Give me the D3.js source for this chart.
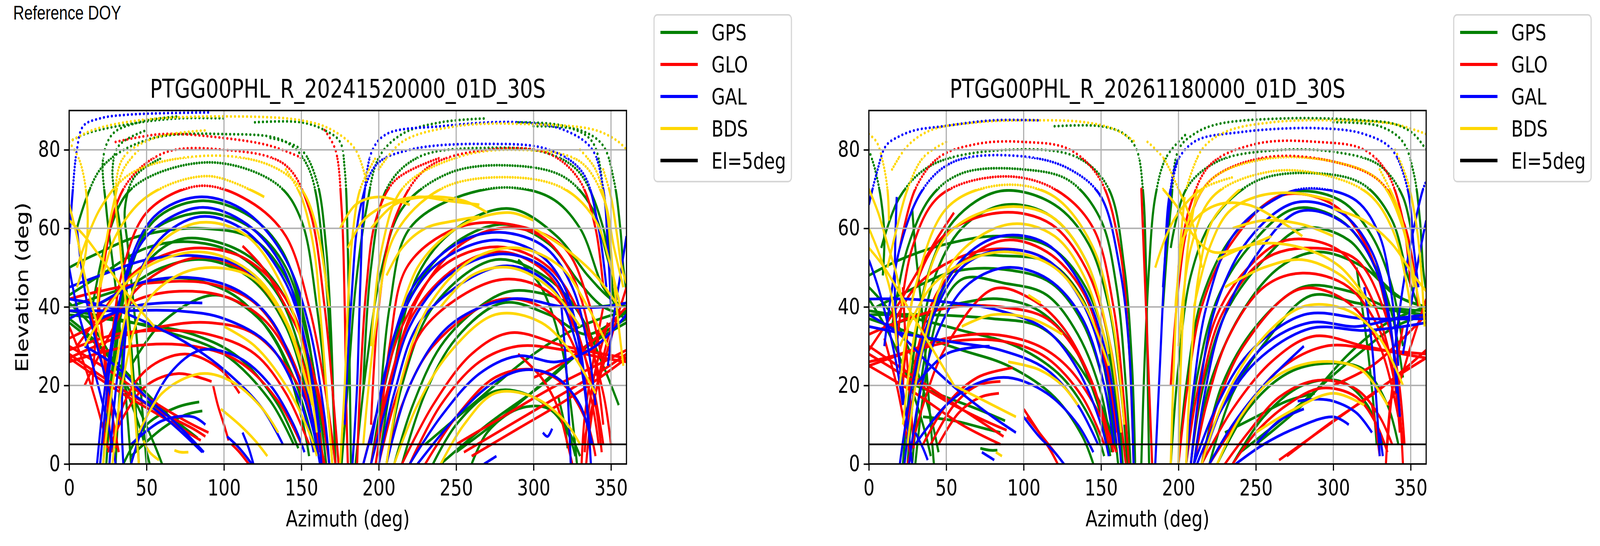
<!DOCTYPE html>
<html>
<head>
<meta charset="utf-8">
<script src="https://cdn.jsdelivr.net/npm/d3@7"></script>
<style>
  html, body { margin: 0; padding: 0; background: #fff; overflow: hidden; }
  svg { display: block; width: 100vw; height: 100vh; }
  text { font-family: "DejaVu Sans", sans-serif; }
</style>
</head>
<body>
<svg id="chart"></svg>
<script>
"use strict";

// tick labels
var azTicks = [0, 50, 100, 150, 200, 250, 300, 350];
var elTicks = [0, 20, 40, 60, 80];
var systems = ["GPS", "GLO", "GAL", "BDS"];
var sysColors = ["green", "red", "blue", "gold"];
var titles = ["PTGG00PHL_R_20241520000_01D_30S", "PTGG00PHL_R_20261180000_01D_30S"];
var elMask = 5;

// tracks, [azimuth, elevation]
var gps24 = [
  [[22,0],[28,25],[36,45],[50,58],[85,64],[118,60],[140,50],[155,30],[163,10],[166,0]],
  [[24,0],[30,28],[40,50],[55,62],[85,67],[117,63],[138,54],[153,35],[161,12],[164,0]],
  [[30,0],[33,20],[38,38],[48,50],[70,57],[100,56],[125,50],[145,38],[157,20],[163,3]],
  [[0,50],[15,53],[45,58],[85,60],[120,57],[142,46],[155,30],[162,12]],
  [[0,43],[20,48],[50,55],[80,56.5],[110,53],[135,43],[150,28],[160,10],[164,0]],
  [[5,38],[30,43],[60,50],[88,52],[118,47],[140,35],[155,15],[160,3]],
  [[0,40],[30,44],[60,47],[80,47],[110,42],[135,30],[150,12],[155,2]],
  [[40,25],[60,36],[95,43],[125,36],[145,22],[158,5]],
  [[0,38],[40,36],[80,33],[110,27],[135,15],[148,4]],
  [[0,39],[30,37],[60,34],[100,28],[130,16],[145,5]],
  [[40,0],[36,20],[30,45],[24,65],[22,78],[28,84],[45,87],[70,88.5]],
  [[45,0],[42,20],[38,40],[33,60],[28,75],[32,81],[50,85]],
  [[50,0],[47,15],[43,35],[38,55],[36,65],[42,73],[60,78]],
  [[0,82],[10,84],[38,86.5],[70,88],[100,88]],
  [[15,40],[25,58],[40,70],[90,76.8],[135,71],[150,62],[160,40],[168,10],[170,0]],
  [[5,60],[20,75],[50,82.5],[100,84],[140,82],[155,75],[165,50],[170,20],[172,0]],
  [[35,0],[50,10],[70,14.5],[84,15.8]],
  [[40,2],[60,9],[75,12.5],[86,13.5]],
  [[50,16],[65,12],[83,6.6]],
  [[0,37],[20,30],[40,18],[55,5],[60,0]],
  [[0,41],[15,35],[30,25],[45,10],[52,0]],
  [[0,36],[25,28],[45,20],[65,12],[75,8]],
  [[120,87],[150,87],[165,85],[175,82],[178,75],[180,55],[181,30],[182,0]],
  [[130,83],[150,80],[160,72],[166,55],[169,35],[171,12],[172,0]],
  [[200,0],[210,25],[225,48],[250,60],[285,65],[315,58],[335,48],[350,42],[360,40]],
  [[195,0],[205,22],[220,42],[245,55],[280,61],[310,56],[330,46],[345,40],[360,38]],
  [[185,0],[192,25],[202,50],[215,65],[245,74],[285,76],[320,73],[338,65],[348,52],[355,42]],
  [[205,0],[215,20],[235,40],[275,52],[310,47],[330,38],[345,25],[355,15]],
  [[215,0],[230,18],[250,32],[280,41],[310,38],[335,33],[360,39]],
  [[235,0],[250,10],[275,18.5],[300,17],[320,10],[330,2]],
  [[260,0],[270,8],[290,14],[310,14],[322,8],[327,2]],
  [[190,20],[195,50],[205,70],[225,78],[270,80.5],[310,79],[330,74],[345,60],[352,40]],
  [[200,10],[207,40],[220,60],[270,70],[310,68],[330,60],[345,45],[355,40]],
  [[176,0],[180,20],[185,45],[192,65],[200,78],[215,84],[240,87],[270,88]],
  [[290,87],[320,86],[338,82],[345,70],[349,55],[352,42],[356,38],[360,37]],
  [[300,86],[330,85],[345,81],[352,72],[356,60],[358,50],[360,44]],
  [[230,5],[260,15],[300,28],[330,35],[360,39]],
  [[250,3],[280,12],[310,22],[340,32],[360,37]],
  [[240,0],[270,10],[305,20],[335,30],[360,36]],
  [[328,0],[324,15],[318,30],[305,45],[290,52]],
  [[322,4],[320,10],[316,17]],
  [[210,0],[222,15],[240,30],[265,40],[285,44],[310,43],[330,40],[360,41]]
];
var glo24 = [
  [[22,5],[27,30],[35,50],[50,64],[84,70.8],[116,67],[140,58],[155,40],[165,20],[172,0]],
  [[5,30],[20,38],[40,48],[60,53],[85,55],[115,52],[140,42],[155,27],[165,8],[168,0]],
  [[10,20],[25,32],[45,45],[85,52.6],[120,47],[145,32],[160,12],[164,0]],
  [[0,42],[20,44],[50,46],[90,46],[120,41],[140,30],[155,15],[162,3]],
  [[0,32],[20,36],[45,42],[75,44],[105,42],[130,35],[150,20],[160,5]],
  [[0,27],[30,32],[60,35],[90,36],[120,33],[145,22],[160,8],[165,0]],
  [[0,29],[30,33],[60,34],[90,33],[120,28],[140,18],[155,5]],
  [[0,26],[40,30],[80,30],[110,26],[135,16],[150,5]],
  [[0,28],[30,20],[60,13],[80,9],[88,7]],
  [[0,30],[25,24],[50,17],[75,11],[90,8]],
  [[0,27],[30,19],[60,12],[85,6]],
  [[18,45],[22,30],[25,15],[27,5],[28,3]],
  [[0,35],[10,25],[20,12],[25,4]],
  [[12,42],[20,28],[28,12],[32,3]],
  [[20,38],[24,25],[28,12],[30,4]],
  [[25,3],[35,12],[50,20],[70,23],[92,21]],
  [[28,3],[35,15],[50,24],[75,28],[98,24],[110,18]],
  [[15,20],[22,50],[35,70],[60,79],[100,80],[140,76],[155,65],[165,40],[172,10],[174,0]],
  [[30,82],[60,84],[100,83],[130,81],[150,78]],
  [[112,55.5],[125,50],[140,40],[150,32],[160,20],[166,8]],
  [[93,20],[96,15],[100,10],[103,6]],
  [[105,5],[110,3],[116,0]],
  [[165,85],[172,80],[176,65],[178,40],[179,15],[180,0]],
  [[190,0],[200,15],[215,35],[240,50],[277,55.3],[310,50],[330,38],[345,18],[350,5]],
  [[195,0],[205,18],[222,38],[250,50],[280,54],[310,48],[328,34],[340,15],[344,3]],
  [[198,0],[208,22],[225,42],[250,55],[278,60],[305,58],[325,48],[338,30],[345,10]],
  [[200,0],[212,18],[230,35],[280,47],[315,42],[335,25],[345,5]],
  [[205,0],[215,15],[235,30],[280,42],[315,37],[335,20],[342,5]],
  [[215,0],[235,15],[260,28],[285,33.4],[320,30],[345,28],[360,27]],
  [[220,0],[240,15],[265,26],[290,30],[320,29],[345,27],[360,26]],
  [[230,0],[250,12],[275,22],[300,24],[320,20],[335,10],[340,2]],
  [[250,5],[280,12],[310,19],[340,25],[360,29]],
  [[255,3],[285,10],[315,17],[345,24],[360,28]],
  [[260,2],[290,9],[320,16],[350,24],[360,27]],
  [[195,10],[200,40],[210,62],[230,75],[270,80],[310,79],[330,72],[340,60],[345,45]],
  [[200,5],[207,30],[218,50],[250,60],[285,61],[320,55],[335,42],[345,25]],
  [[186,0],[188,20],[192,45],[198,62],[210,72],[240,78]],
  [[345,40],[338,25],[333,12],[331,0]],
  [[352,38],[342,22],[336,8],[334,0]],
  [[348,36],[340,24],[335,12],[333,3]],
  [[360,45],[350,32],[340,18],[332,5]],
  [[300,22],[320,26],[340,32],[360,40]],
  [[290,28],[305,22],[315,15],[322,5],[325,0]]
];
var gal24 = [
  [[0,56],[2,68],[5,80],[9,86],[20,88],[40,89],[90,89.5]],
  [[20,0],[28,30],[38,50],[55,63],[84,68],[115,64],[140,52],[155,35],[165,12],[168,0]],
  [[18,0],[25,25],[35,45],[50,58],[84,65.3],[115,61],[138,50],[152,32],[160,12],[163,0]],
  [[26,0],[32,25],[42,45],[58,57],[85,63],[115,59],[140,46],[153,30],[162,8]],
  [[0,45],[20,48],[50,52],[82,53],[112,50],[135,40],[150,25],[160,5]],
  [[0,37],[20,41],[45,46],[80,47.4],[110,44],[130,37],[145,25],[158,8],[162,0]],
  [[20,37],[40,40],[60,41],[86,41]],
  [[0,39],[30,39],[70,39],[100,37],[130,30],[150,15],[158,3]],
  [[0,42],[25,40],[50,36],[75,31],[100,24],[125,14],[138,5]],
  [[10,30],[30,25],[50,17],[70,10],[87,3]],
  [[40,18],[55,14],[70,9],[86,3]],
  [[0,50],[5,40],[12,30],[20,18],[28,5],[30,0]],
  [[5,60],[8,50],[12,40],[18,30],[25,20],[32,10]],
  [[38,40],[35,25],[34,10],[35,0]],
  [[40,0],[50,12],[65,23],[85,29],[110,27],[130,20],[145,10],[152,3]],
  [[40,5],[60,11],[80,12],[88,10]],
  [[112,8],[116,4],[119,0]],
  [[102,7],[110,4],[118,0]],
  [[190,0],[200,15],[212,35],[235,50],[274,57],[305,53],[320,45],[330,30],[335,12],[337,0]],
  [[195,0],[205,15],[220,35],[245,48],[280,53.5],[310,49],[325,38],[333,20],[337,5]],
  [[195,5],[205,25],[222,45],[250,56],[278,59],[308,55],[325,45],[335,30],[340,15]],
  [[200,0],[210,18],[228,37],[280,50.4],[312,45],[328,30],[335,12]],
  [[205,0],[220,20],[245,35],[285,42],[320,40],[345,40],[360,41]],
  [[220,0],[240,12],[265,23],[290,27.5],[315,26],[340,30],[360,38]],
  [[225,0],[250,12],[275,21],[295,24],[315,22],[330,15],[338,5]],
  [[183,0],[186,20],[188,45],[191,70],[196,80],[205,84],[240,86],[290,87],[320,85],[338,80],[345,70],[348,55],[350,40]],
  [[178,10],[182,40],[188,65],[198,76],[220,80],[270,81.5],[310,80],[332,74],[342,60],[347,45]],
  [[306,8],[309,7],[312,9]],
  [[268,0],[272,1],[276,2]],
  [[318,40],[321,25],[323,10],[324,0]],
  [[360,58],[356,48],[352,38],[348,25]]
];
var bds24 = [
  [[0,82],[15,85],[45,87.5],[100,88.5],[150,87.5],[170,85],[185,80],[192,72]],
  [[5,50],[20,65],[40,74],[90,78.5],[130,76],[150,70],[160,60],[168,40]],
  [[20,45],[30,58],[50,68],[90,73.3],[126,68]],
  [[22,0],[30,25],[42,45],[58,56],[85,61.5],[115,58],[138,45],[152,28],[160,8]],
  [[10,30],[25,40],[45,49],[85,54],[120,48],[142,35],[157,15]],
  [[28,0],[35,22],[48,40],[70,48],[95,50],[120,47],[140,36],[155,18]],
  [[45,8],[60,18],[85,23],[105,21],[125,14],[135,8]],
  [[0,82],[6,78],[10,72],[12,62],[10,52],[5,45]],
  [[0,66],[5,58],[10,48],[15,40],[22,30]],
  [[0,62],[10,58],[25,50],[40,42],[55,35]],
  [[18,40],[22,52],[28,65],[35,75],[45,80]],
  [[45,0],[42,15],[38,35],[33,55],[30,70],[35,78],[55,83],[90,85]],
  [[68,3.5],[72,3],[77,3]],
  [[48,6],[52,3],[58,1]],
  [[100,35],[120,30],[140,20],[155,8],[160,2]],
  [[98,14],[110,10],[120,6],[128,2]],
  [[140,75],[150,68],[158,55],[163,35],[167,15],[170,0]],
  [[190,5],[198,35],[210,58],[240,70],[285,73],[320,70],[340,62],[350,50],[356,40]],
  [[195,30],[202,55],[215,70],[250,78],[290,80],[330,77],[345,68],[352,55],[358,45]],
  [[200,75],[215,82],[250,86],[300,86.5],[340,85],[355,82],[360,80]],
  [[205,0],[215,22],[232,40],[260,52],[290,55],[318,50],[335,40],[348,30]],
  [[210,0],[225,15],[245,28],[275,38],[305,36],[325,28],[340,18]],
  [[240,0],[255,10],[275,18],[300,17],[320,11],[330,5]],
  [[330,80],[340,75],[347,65],[351,50],[355,35],[358,25]],
  [[345,75],[350,68],[354,58],[357,50],[360,46]],
  [[175,0],[178,20],[180,40],[183,58],[188,70],[198,78]],
  [[175,60],[185,66],[200,68],[220,66]],
  [[205,48],[215,55],[230,60],[250,62],[265,63]],
  [[180,55],[190,62],[205,66],[225,68],[245,67],[265,66]],
  [[195,60],[210,66],[230,68],[255,67],[270,64]],
  [[215,40],[225,50],[240,57],[260,62],[285,64],[300,62]],
  [[240,40],[260,48],[285,50],[310,45],[330,35]],
  [[300,60],[320,55],[340,48],[355,40]]
];

// tracks
var gps26 = [
  [[0,80],[4,75],[8,67],[10,58],[9,48]],
  [[22,0],[28,25],[38,48],[55,62],[85,69.5],[120,66],[142,56],[155,40],[163,18],[167,0]],
  [[25,0],[31,25],[42,47],[60,60],[88,66],[118,63],[140,52],[153,35],[161,14],[164,0]],
  [[0,48],[20,52],[50,56],[85,58],[118,55],[140,45],[155,28],[162,8]],
  [[28,0],[34,22],[45,42],[62,52],[88,53],[118,51],[138,42],[150,28],[158,10],[161,0]],
  [[5,40],[25,44],[55,49],[88,49.5],[118,46],[138,36],[152,20],[160,3]],
  [[30,0],[36,20],[45,38],[60,47],[88,46],[115,43],[135,33],[150,18],[157,3]],
  [[10,35],[35,38],[60,41],[85,42],[110,39],[132,30],[148,15],[156,2]],
  [[0,38],[40,38],[80,37],[110,35],[130,28],[150,15],[160,3]],
  [[0,39],[30,37],[60,34],[95,30],[125,22],[145,10],[152,2]],
  [[0,37],[30,33],[60,29],[90,25],[120,17],[138,7],[145,0]],
  [[30,20],[50,17],[70,14],[88,11]],
  [[35,12],[55,11],[75,9],[85,8]],
  [[72,4],[78,3.5],[83,3.5]],
  [[15,35],[25,55],[40,68],[60,74],[100,75],[130,72],[150,62],[160,45],[166,20],[169,0]],
  [[8,55],[20,68],[40,76],[90,80],[135,78],[155,70],[165,50],[170,25],[172,0]],
  [[0,45],[15,38],[30,25],[40,12],[45,3]],
  [[0,42],[12,34],[25,22],[35,10],[40,2]],
  [[42,0],[38,20],[34,40],[30,55],[28,65]],
  [[120,86],[150,86],[165,84],[173,80],[177,70],[179,50],[180,25],[181,0]],
  [[190,40],[195,65],[200,80],[210,84],[225,86.5],[270,88],[320,87.5],[340,86.5],[352,84],[360,80]],
  [[195,55],[205,70],[225,77],[260,79.8],[300,79.5],[330,76],[345,68],[352,55]],
  [[195,0],[200,25],[208,48],[222,62],[250,72],[290,74],[320,71],[338,62],[348,48],[355,40]],
  [[200,0],[205,20],[215,42],[235,58],[270,69],[305,67],[325,58],[338,45],[345,30]],
  [[205,0],[212,22],[225,42],[245,55],[275,65],[305,62],[325,52],[338,38],[345,22]],
  [[208,0],[215,18],[230,38],[255,52],[280,60],[310,57],[330,47],[345,42],[360,40]],
  [[210,0],[220,20],[240,38],[265,50],[290,54],[320,50],[340,43],[360,40]],
  [[215,0],[228,20],[250,35],[280,45],[310,44],[335,40],[360,39]],
  [[220,0],[235,18],[258,32],[285,42.8],[315,41],[340,39],[360,38]],
  [[225,0],[245,14],[270,23],[295,25.6],[320,24],[335,15],[342,5]],
  [[235,0],[255,12],[280,20],[305,21],[322,15],[332,5]],
  [[250,5],[280,15],[310,28],[335,36],[360,40]],
  [[240,3],[275,14],[310,26],[340,35],[360,38]],
  [[315,50],[322,30],[326,15],[328,5]],
  [[176,0],[178,25],[181,50],[185,68],[192,78],[205,84]],
  [[300,87],[330,86],[345,82],[352,74],[356,62],[358,50],[360,44]],
  [[230,8],[250,12],[270,16],[288,18]]
];
var glo26 = [
  [[20,55],[30,70],[45,78],[70,81.5],[100,82],[130,80],[150,72],[162,55],[168,30],[171,0]],
  [[18,30],[28,55],[45,68],[85,73.2],[120,70],[145,60],[158,40],[165,15],[168,0]],
  [[22,20],[30,45],[48,58],[85,64],[118,61],[140,50],[155,32],[163,10],[166,0]],
  [[25,10],[32,30],[48,46],[85,56.8],[115,54],[138,44],[152,28],[160,8]],
  [[15,35],[30,45],[55,52],[85,54.8],[115,52],[140,40],[155,22],[162,4]],
  [[25,0],[35,15],[50,30],[80,44.5],[105,42],[125,35],[145,20],[155,5]],
  [[0,33],[25,37],[55,40],[85,40],[115,37],[135,28],[150,14],[158,3]],
  [[0,26],[20,28],[50,32],[80,33],[110,30],[130,24],[150,12],[160,3]],
  [[0,25],[30,29],[60,31.5],[90,31],[115,27],[138,17],[152,5]],
  [[35,5],[50,15],[70,22],[93,24.5]],
  [[40,5],[55,15],[70,20],[85,21]],
  [[45,5],[58,13],[72,17],[84,18]],
  [[0,28],[25,22],[50,16],[75,11],[89,8.6]],
  [[0,30],[30,22],[60,14],[87,7]],
  [[0,25],[30,18],[60,10],[85,5]],
  [[15,40],[20,25],[25,10],[28,0]],
  [[10,32],[18,20],[24,8],[27,2]],
  [[22,45],[24,30],[27,15],[29,4]],
  [[0,29],[15,38],[30,48],[45,58],[55,64]],
  [[100,14],[110,8],[118,3],[122,0]],
  [[102,12],[112,7],[122,2]],
  [[176,70],[178,50],[180,30],[182,10],[183,0]],
  [[200,50],[207,65],[220,76],[250,81.5],[290,82],[320,80],[335,74],[345,62],[350,45]],
  [[195,20],[200,45],[207,62],[220,72],[255,78],[300,77],[330,72],[345,62],[352,50],[355,40]],
  [[200,0],[206,20],[215,40],[232,55],[265,68.2],[300,66],[322,55],[335,38],[342,18],[345,0]],
  [[205,0],[212,18],[225,38],[245,50],[270,57],[305,54],[325,42],[338,25],[343,8]],
  [[208,0],[215,20],[228,38],[255,52],[285,55],[315,52],[332,40],[342,22],[346,5]],
  [[210,0],[218,15],[232,32],[255,45],[280,48.6],[310,45],[330,34],[340,20],[345,5]],
  [[215,0],[225,15],[242,30],[278,44.5],[310,41],[330,30],[342,12]],
  [[215,0],[235,14],[260,26],[287,32.5],[320,30],[345,28],[360,27]],
  [[220,0],[240,12],[265,24],[295,30],[330,29],[360,28]],
  [[230,0],[245,8],[265,17],[290,21.3],[315,19],[330,12],[338,5]],
  [[235,0],[250,8],[270,15],[292,19.3],[315,17],[328,10],[335,3]],
  [[265,1],[290,8],[315,15],[340,22],[360,27]],
  [[270,2],[300,11],[330,19],[360,29]],
  [[340,25],[336,12],[334,0]],
  [[345,35],[338,18],[335,5]],
  [[360,42],[350,30],[342,20],[335,15]],
  [[300,20],[325,25],[345,32],[360,38]],
  [[325,15],[328,8],[330,2]]
];
var gal26 = [
  [[0,66],[5,74],[11,81],[20,83.5],[30,85],[48,86],[80,87.5],[110,87.5]],
  [[10,30],[20,55],[35,70],[55,77],[100,78.3],[130,75],[150,68],[162,50],[168,30],[171,0]],
  [[20,0],[28,20],[40,38],[60,52],[85,58],[115,56],[138,45],[152,30],[160,12],[163,0]],
  [[23,0],[30,20],[42,38],[60,50],[85,54.5],[115,52],[138,41],[152,25],[160,5]],
  [[26,0],[33,18],[45,34],[62,45],[88,50],[116,47],[138,37],[152,20],[158,5]],
  [[18,68],[17,55],[17,40],[20,25],[25,10],[28,0]],
  [[30,20],[50,28],[78,30]],
  [[0,42],[25,42],[55,41],[85,39],[115,34],[135,24],[150,10],[155,2]],
  [[0,35],[25,33],[55,31],[85,29],[115,24],[135,15],[148,5]],
  [[30,5],[50,15],[70,20.5],[90,22],[115,18],[135,10],[145,3]],
  [[0,38],[20,33],[40,25],[60,18],[80,12],[95,8]],
  [[73,3],[77,2],[81,1]],
  [[100,12],[110,7],[120,3],[126,0]],
  [[0,52],[6,45],[12,36],[18,25],[22,15]],
  [[30,8],[35,4],[38,1]],
  [[205,0],[210,20],[218,40],[235,58],[265,68],[285,70.2],[315,67],[330,58],[338,42],[342,25]],
  [[208,0],[214,20],[224,40],[245,57],[275,66.5],[305,64],[325,54],[336,38],[341,18]],
  [[210,0],[217,18],[228,36],[250,53],[278,64.3],[308,61],[327,50],[338,32],[343,12]],
  [[210,0],[225,15],[245,28],[281,38],[320,37],[360,37]],
  [[212,0],[228,14],[250,26],[285,34.5],[320,34],[345,35],[360,36]],
  [[215,0],[230,16],[255,30],[285,36],[315,35],[340,37],[360,38]],
  [[220,0],[235,10],[255,20],[281,30]],
  [[277,16],[290,16.5],[300,16],[315,13],[325,8]],
  [[250,5],[265,11],[281,14]],
  [[237,0],[255,5],[275,9],[300,12],[310,10]],
  [[190,45],[194,65],[198,76],[210,82],[240,84.5],[290,85.5],[320,84],[338,80],[348,70],[352,55],[355,45]],
  [[185,0],[188,25],[191,50],[194,68],[200,78]],
  [[340,30],[345,45],[352,60],[358,70],[360,72]],
  [[330,8],[331,5],[332,2]],
  [[320,45],[325,30],[328,15],[330,2]],
  [[360,62],[355,52],[350,40],[345,28]]
];
var bds26 = [
  [[0,84],[5,82],[9,77],[12,70],[13,62]],
  [[0,70],[6,64],[12,56],[18,48],[22,40]],
  [[15,75],[25,81],[40,85],[70,87],[100,87.5],[140,87],[160,85],[172,82]],
  [[20,20],[30,45],[50,65],[85,71],[120,68],[145,55],[158,35],[165,10]],
  [[22,10],[32,38],[50,58],[85,65.3],[118,63],[140,52],[155,32],[163,8]],
  [[25,5],[35,30],[55,52],[90,61],[120,58],[140,47],[155,28]],
  [[20,30],[40,45],[65,52],[90,54],[120,50],[140,40],[155,25]],
  [[0,55],[10,50],[25,40],[40,30],[55,20]],
  [[0,60],[8,52],[15,42],[18,30]],
  [[12,50],[18,60],[25,70],[35,78],[50,82]],
  [[82,3],[86,2]],
  [[55,20],[70,17],[85,14],[95,12]],
  [[103,43],[107,42],[111,41]],
  [[60,35],[80,38],[105,37],[125,33]],
  [[90,26],[110,24],[125,20],[135,15]],
  [[205,70],[215,80],[230,84.5],[260,87],[300,87.5],[340,86.5],[360,84]],
  [[180,82],[190,78],[200,70],[210,60],[215,50]],
  [[198,40],[205,60],[220,72],[255,77.6],[300,77],[330,72],[345,60],[352,45]],
  [[200,30],[208,55],[222,68],[260,74.5],[300,73],[325,68],[340,58],[350,40]],
  [[185,50],[192,58],[200,64],[215,70],[235,73]],
  [[190,70],[200,65],[210,58],[222,54],[240,55],[260,58]],
  [[210,40],[220,55],[232,64],[250,68],[275,69],[300,67]],
  [[200,55],[210,62],[225,66],[245,66],[265,62],[280,58]],
  [[225,52],[250,56],[280,55],[305,50],[325,40]],
  [[235,60],[255,62],[280,61],[300,58]],
  [[230,45],[255,50],[280,52],[305,48],[320,42]],
  [[300,65],[320,62],[338,56],[352,48],[360,44]],
  [[215,0],[228,15],[250,30],[280,40],[310,39],[330,32],[345,20]],
  [[225,0],[240,12],[262,22],[290,26],[318,24],[335,15]],
  [[195,0],[197,25],[200,50],[204,68]],
  [[200,0],[202,30],[206,55],[212,70]],
  [[205,0],[208,25],[213,48],[222,62],[240,70]],
  [[340,80],[348,72],[354,60],[357,48],[359,35]],
  [[330,75],[342,65],[350,52],[356,40]],
  [[250,8],[275,14],[300,18],[320,15]]
];

var width = 5228,
    height = 1398;
var plotW = 1821,
    plotH = 905,
    plotTop = 283;
var panelLefts = [226, 2839];
var panelTracks = [[gps24, glo24, gal24, bds24], [gps26, glo26, gal26, bds26]];

// the drawing is laid out on a 5228x1398 canvas and stretched to fill the window
var svg = d3.select("#chart")
    .attr("viewBox", "0 0 " + width + " " + height)
    .attr("preserveAspectRatio", "none");

svg.append("text")
    .attr("x", 43)
    .attr("y", 50)
    .style("font-family", "'Liberation Sans', Arial, sans-serif")
    .style("font-size", "50px")
    .text("Reference DOY");

var x = d3.scaleLinear().domain([0, 360]).range([0, plotW]);
var y = d3.scaleLinear().domain([0, 90]).range([plotH, 0]);

var line = d3.line()
    .x(function (d) { return x(d[0]); })
    .y(function (d) { return y(d[1]); })
    .curve(d3.curveCatmullRom.alpha(0.5));

// clip bands: solid low part, beaded middle, sparse dots near zenith
var defs = svg.append("defs");
var bands = [
    { id: "band-top", lo: 78, hi: 95, dash: "0.1 13" },
    { id: "band-mid", lo: 70, hi: 78, dash: "0.1 8.5" },
    { id: "band-low", lo: -5, hi: 70, dash: null }
];
bands.forEach(function (b) {
    defs.append("clipPath").attr("id", b.id)
        .append("rect")
        .attr("x", -10)
        .attr("width", plotW + 20)
        .attr("y", y(b.hi))
        .attr("height", y(b.lo) - y(b.hi));
});
defs.append("clipPath").attr("id", "plot-area")
    .append("rect")
    .attr("width", plotW)
    .attr("height", plotH);

panelLefts.forEach(function (left, p) {
    var g = svg.append("g")
        .attr("transform", "translate(" + left + "," + plotTop + ")");

    var area = g.append("g").attr("clip-path", "url(#plot-area)");

    // satellite tracks
    panelTracks[p].forEach(function (tracks, s) {
        var sg = area.append("g").attr("class", systems[s]);
        bands.forEach(function (b) {
            sg.append("g")
                .attr("clip-path", "url(#" + b.id + ")")
                .selectAll("path")
                .data(tracks)
                .enter()
                .append("path")
                .attr("d", line)
                .attr("fill", "none")
                .attr("stroke", sysColors[s])
                .attr("stroke-width", 7)
                .attr("stroke-linecap", b.dash ? "round" : "butt")
                .attr("stroke-linejoin", "round")
                .attr("stroke-dasharray", b.dash);
        });
    });

    // grid on top of the tracks
    g.append("g").selectAll("line")
        .data(azTicks)
        .enter().append("line")
        .attr("x1", x).attr("x2", x)
        .attr("y1", 0).attr("y2", plotH)
        .attr("stroke", "#b0b0b0")
        .attr("stroke-width", 3.8);
    g.append("g").selectAll("line")
        .data(elTicks)
        .enter().append("line")
        .attr("x1", 0).attr("x2", plotW)
        .attr("y1", y).attr("y2", y)
        .attr("stroke", "#b0b0b0")
        .attr("stroke-width", 3.8);

    // elevation mask
    g.append("line")
        .attr("x1", x(0)).attr("x2", x(360))
        .attr("y1", y(elMask)).attr("y2", y(elMask))
        .attr("stroke", "black")
        .attr("stroke-width", 4.6);

    // spines
    g.append("rect")
        .attr("width", plotW)
        .attr("height", plotH)
        .attr("fill", "none")
        .attr("stroke", "black")
        .attr("stroke-width", 3.8);

    var xAxis = g.append("g")
        .attr("transform", "translate(0," + plotH + ")")
        .call(d3.axisBottom(x).tickValues(azTicks).tickSize(17).tickPadding(24).tickFormat(d3.format("d")));
    var yAxis = g.append("g")
        .call(d3.axisLeft(y).tickValues(elTicks).tickSize(17).tickPadding(12).tickFormat(d3.format("d")));
    [xAxis, yAxis].forEach(function (ax) {
        ax.select(".domain").remove();
        ax.selectAll(".tick line").attr("stroke-width", 3.8);
        ax.selectAll(".tick text")
            .style("font-family", "'DejaVu Sans', sans-serif")
            .style("font-size", "57px")
            .attr("fill", "black");
    });

    g.append("text")
        .attr("x", plotW / 2)
        .attr("y", plotH + 160)
        .attr("text-anchor", "middle")
        .style("font-size", "57px")
        .text("Azimuth (deg)");

    g.append("text")
        .attr("transform", "translate(" + (92 - left) + "," + (plotH / 2) + ") rotate(-90)")
        .attr("text-anchor", "middle")
        .style("font-size", "57px")
        .text("Elevation (deg)");

    g.append("text")
        .attr("x", plotW / 2)
        .attr("y", 250 - plotTop)
        .attr("text-anchor", "middle")
        .style("font-size", "66px")
        .text(titles[p]);

    // legend
    var lg = svg.append("g")
        .attr("transform", "translate(" + (left + plotW + 90) + ",38)");
    lg.append("rect")
        .attr("width", 449)
        .attr("height", 427)
        .attr("rx", 11)
        .attr("fill", "white")
        .attr("fill-opacity", 0.8)
        .attr("stroke", "#d6d6d6")
        .attr("stroke-width", 3.8);
    var labels = systems.concat(["El=" + elMask + "deg"]);
    var colors = sysColors.concat(["black"]);
    var rows = lg.selectAll("g.row")
        .data(labels)
        .enter().append("g")
        .attr("class", "row")
        .attr("transform", function (d, i) { return "translate(0," + (45 + i * 82) + ")"; });
    rows.append("line")
        .attr("x1", 21).attr("x2", 143)
        .attr("stroke", function (d, i) { return colors[i]; })
        .attr("stroke-width", function (d, i) { return i === 4 ? 9 : 8; });
    rows.append("text")
        .attr("x", 188)
        .attr("y", 21)
        .style("font-size", "57px")
        .text(function (d) { return d; });
});
</script>
</body>
</html>
